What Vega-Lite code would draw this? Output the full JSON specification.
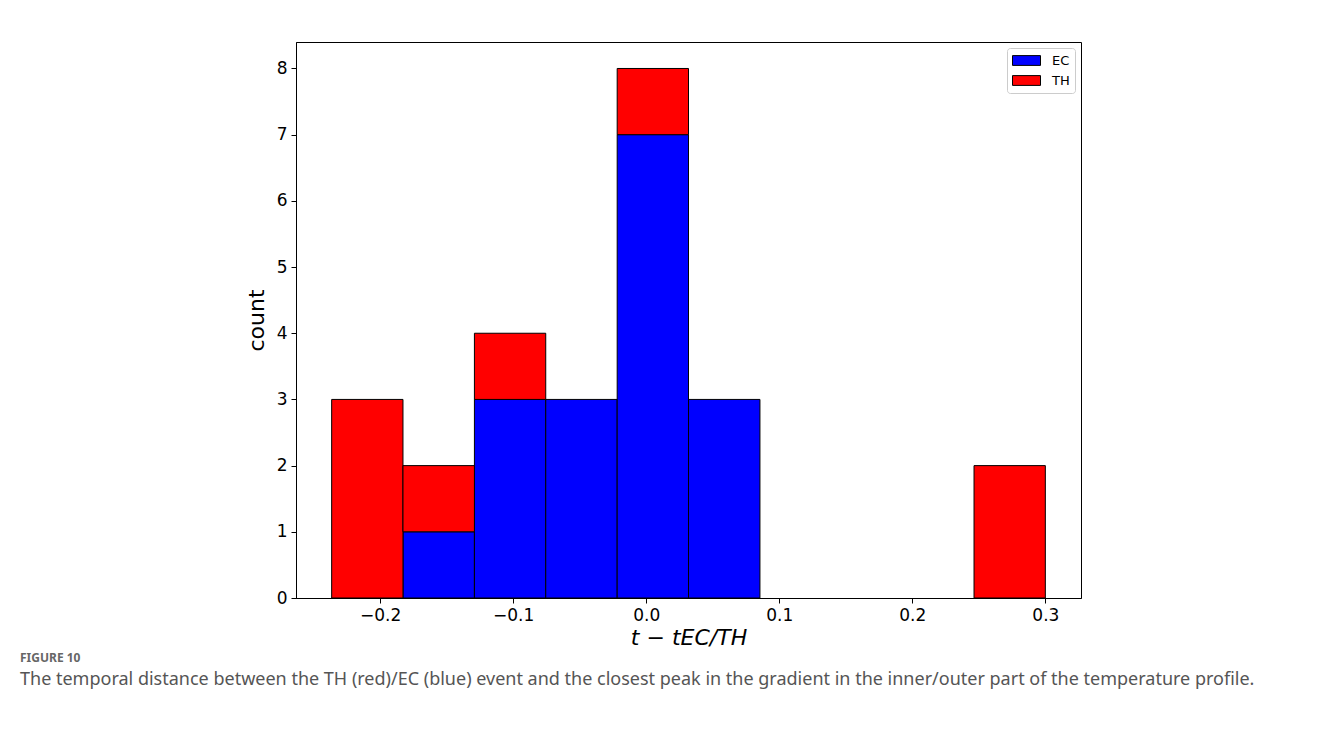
{
  "$schema": "https://vega.github.io/schema/vega-lite/v6.json",
  "width": 785,
  "height": 556,
  "autosize": {"type": "none"},
  "padding": {"left": 296, "top": 42, "right": 236, "bottom": 144},
  "background": "white",
  "title": {
    "text": "FIGURE 10",
    "subtitle": "The temporal distance between the TH (red)/EC (blue) event and the closest peak in the gradient in the inner/outer part of the temperature profile.",
    "orient": "bottom",
    "anchor": "start",
    "frame": "group",
    "dx": -276,
    "offset": 5,
    "font": "Noto Sans",
    "fontSize": 12,
    "fontWeight": "bold",
    "color": "#666666",
    "subtitleFont": "Noto Sans",
    "subtitleFontSize": 18,
    "subtitleColor": "#555555",
    "subtitlePadding": 6
  },
  "data": {
    "values": [
      {"bin_start": -0.1828, "bin_end": -0.1291, "group": "EC", "count": 1},
      {"bin_start": -0.1291, "bin_end": -0.0755, "group": "EC", "count": 3},
      {"bin_start": -0.0755, "bin_end": -0.0218, "group": "EC", "count": 3},
      {"bin_start": -0.0218, "bin_end": 0.0318, "group": "EC", "count": 7},
      {"bin_start": 0.0318, "bin_end": 0.0855, "group": "EC", "count": 3},
      {"bin_start": -0.2364, "bin_end": -0.1828, "group": "TH", "count": 3},
      {"bin_start": -0.1828, "bin_end": -0.1291, "group": "TH", "count": 1},
      {"bin_start": -0.1291, "bin_end": -0.0755, "group": "TH", "count": 1},
      {"bin_start": -0.0218, "bin_end": 0.0318, "group": "TH", "count": 1},
      {"bin_start": 0.2464, "bin_end": 0.3, "group": "TH", "count": 2}
    ]
  },
  "transform": [
    {"stack": "count", "groupby": ["bin_start"], "sort": [{"field": "group", "order": "ascending"}], "as": ["y0", "y1"]}
  ],
  "mark": {"type": "bar", "stroke": "black", "strokeWidth": 1, "opacity": 1},
  "encoding": {
    "x": {
      "field": "bin_start",
      "type": "quantitative",
      "scale": {"domain": [-0.2632, 0.3268], "nice": false, "zero": false},
      "axis": {
        "title": "t − tEC/TH",
        "values": [-0.2, -0.1, 0.0, 0.1, 0.2, 0.3],
        "format": ".1f",
        "titleFontStyle": "italic",
        "titleFontWeight": "normal",
        "titleFontSize": 22,
        "titlePadding": 4
      }
    },
    "x2": {"field": "bin_end"},
    "y": {
      "field": "y0",
      "type": "quantitative",
      "scale": {"domain": [0, 8.4], "nice": false},
      "axis": {
        "title": "count",
        "values": [0, 1, 2, 3, 4, 5, 6, 7, 8],
        "titleFontWeight": "normal",
        "titleFontSize": 22,
        "titlePadding": 8
      }
    },
    "y2": {"field": "y1"},
    "color": {
      "field": "group",
      "type": "nominal",
      "scale": {"domain": ["EC", "TH"], "range": ["#0000ff", "#ff0000"]},
      "legend": {
        "title": null,
        "orient": "top-right",
        "offset": 6,
        "symbolType": "M-1,-0.7H3V0.7H-1Z",
        "symbolSize": 196,
        "symbolStrokeColor": "black",
        "symbolStrokeWidth": 1,
        "symbolOpacity": 1,
        "labelFontSize": 13,
        "labelFont": "DejaVu Sans",
        "labelColor": "black",
        "labelOffset": 25,
        "rowPadding": 5,
        "padding": 5,
        "strokeColor": "#cccccc",
        "fillColor": "white",
        "cornerRadius": 3
      }
    }
  },
  "config": {
    "font": "DejaVu Sans",
    "view": {"stroke": "black", "strokeWidth": 1},
    "axis": {
      "grid": false,
      "domainColor": "black",
      "tickColor": "black",
      "tickSize": 5,
      "labelFontSize": 17,
      "labelColor": "black",
      "titleColor": "black",
      "labelFont": "DejaVu Sans",
      "titleFont": "DejaVu Sans",
      "labelPadding": 4
    }
  }
}
